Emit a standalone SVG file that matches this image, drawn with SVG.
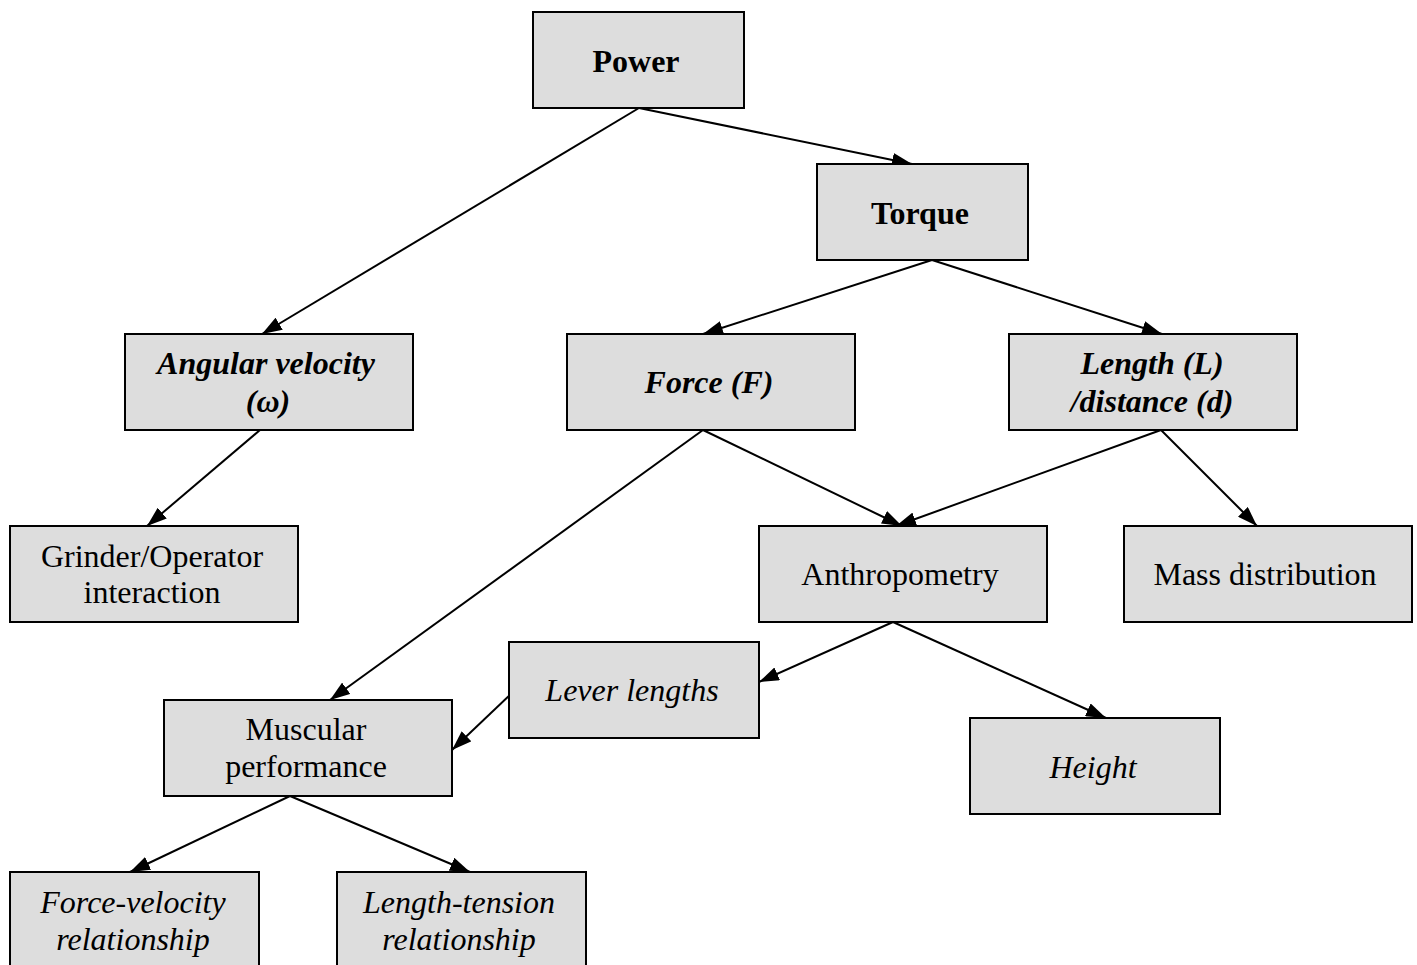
<svg xmlns="http://www.w3.org/2000/svg" width="1417" height="965" viewBox="0 0 1417 965">
<style>
.box{fill:#dddddd;stroke:#000;stroke-width:2}
text{font-family:"Liberation Serif","Times New Roman",serif;font-size:32px;text-anchor:middle;fill:#000}
.b{font-weight:bold}
.i{font-style:italic}
.c{stroke:#000;stroke-width:2;fill:none;marker-end:url(#ah)}
</style>
<defs>
<marker id="ah" viewBox="0 0 20 14" refX="20" refY="7" markerWidth="20" markerHeight="14" markerUnits="userSpaceOnUse" orient="auto">
<path d="M0,0 L20,7 L0,14 z" fill="#000"/>
</marker>
</defs>
<rect width="1417" height="965" fill="#fff"/>
<g id="connectors">
<line class="c" x1="639" y1="108" x2="262" y2="334"/>
<line class="c" x1="639" y1="108" x2="912" y2="164"/>
<line class="c" x1="932" y1="260" x2="703" y2="334"/>
<line class="c" x1="932" y1="260" x2="1162" y2="334"/>
<line class="c" x1="260" y1="430" x2="147" y2="526"/>
<line class="c" x1="703" y1="430" x2="330" y2="700"/>
<line class="c" x1="703" y1="430" x2="902" y2="526"/>
<line class="c" x1="1161" y1="430" x2="896" y2="526"/>
<line class="c" x1="1161" y1="430" x2="1257" y2="526"/>
<line class="c" x1="893" y1="622" x2="759" y2="682"/>
<line class="c" x1="893" y1="622" x2="1106" y2="718"/>
<line class="c" x1="511" y1="694" x2="452" y2="750"/>
<line class="c" x1="290" y1="796" x2="130" y2="872"/>
<line class="c" x1="290" y1="796" x2="470" y2="872"/>
</g>
<g id="power"><rect class="box" x="533" y="12" width="211" height="96"/><text class="b" x="636" y="72">Power</text></g>
<g id="torque"><rect class="box" x="817" y="164" width="211" height="96"/><text class="b" x="920" y="224">Torque</text></g>
<g id="angular"><rect class="box" x="125" y="334" width="288" height="96"/><text class="b i" x="266" y="374">Angular velocity</text><text class="b i" x="268" y="412">(ω)</text></g>
<g id="force"><rect class="box" x="567" y="334" width="288" height="96"/><text class="b i" x="709" y="393">Force (F)</text></g>
<g id="length"><rect class="box" x="1009" y="334" width="288" height="96"/><text class="b i" x="1152" y="374">Length (L)</text><text class="b i" x="1152" y="412">/distance (d)</text></g>
<g id="grinder"><rect class="box" x="10" y="526" width="288" height="96"/><text x="152" y="567">Grinder/Operator</text><text x="152" y="603">interaction</text></g>
<g id="anthropometry"><rect class="box" x="759" y="526" width="288" height="96"/><text x="900" y="585">Anthropometry</text></g>
<g id="mass"><rect class="box" x="1124" y="526" width="288" height="96"/><text x="1265" y="585">Mass distribution</text></g>
<g id="lever"><rect class="box" x="509" y="642" width="250" height="96"/><text class="i" x="632" y="701">Lever lengths</text></g>
<g id="muscular"><rect class="box" x="164" y="700" width="288" height="96"/><text x="306" y="740">Muscular</text><text x="306" y="777">performance</text></g>
<g id="height"><rect class="box" x="970" y="718" width="250" height="96"/><text class="i" x="1093" y="778">Height</text></g>
<g id="fv"><rect class="box" x="10" y="872" width="249" height="100"/><text class="i" x="133" y="913">Force-velocity</text><text class="i" x="133" y="950">relationship</text></g>
<g id="lt"><rect class="box" x="337" y="872" width="249" height="100"/><text class="i" x="459" y="913">Length-tension</text><text class="i" x="459" y="950">relationship</text></g>
</svg>
